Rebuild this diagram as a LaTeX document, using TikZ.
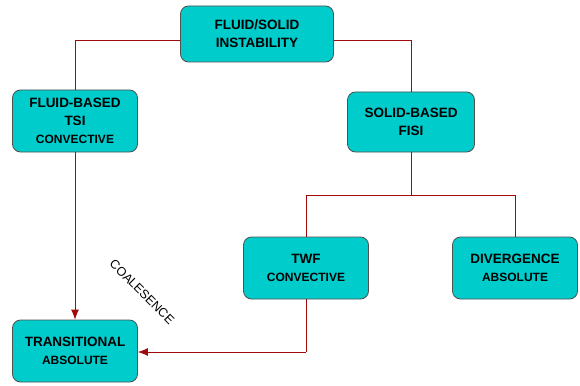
\documentclass[tikz,border=0pt]{standalone}
\usepackage{fontspec}
\setmainfont{Liberation Sans}
\usetikzlibrary{arrows.meta}
\definecolor{boxfill}{RGB}{0,204,204}
\definecolor{boxline}{RGB}{80,80,80}
\definecolor{linkred}{RGB}{160,10,10}
\begin{document}
\begin{tikzpicture}[x=1pt, y=1pt, >={Latex[length=10pt,width=8pt]},
    box/.style={draw=boxline, fill=boxfill, rounded corners=8pt, line width=0.8pt,
        minimum width=125pt, minimum height=62pt, inner sep=2pt, align=center,
        font=\bfseries\fontsize{13.5}{18}\selectfont},
    link/.style={draw=linkred, line width=0.8pt}]
    \useasboundingbox (0,0) rectangle (580,-385);

    % -- Boites --
    \node[box, minimum width=153pt, minimum height=56pt] (fsi) at (257,-34) {FLUID/SOLID\\INSTABILITY};
    \node[box] (fluid) at (75,-121) {FLUID-BASED\\TSI\\{\fontsize{12}{16}\selectfont CONVECTIVE}};
    \node[box, minimum width=127pt, minimum height=60pt] (solid) at (411,-122) {SOLID-BASED\\FISI};
    \node[box] (twf) at (306,-268) {TWF\\{\fontsize{12}{18}\selectfont CONVECTIVE}};
    \node[box] (div) at (515,-268) {DIVERGENCE\\{\fontsize{12}{18}\selectfont ABSOLUTE}};
    \node[box] (trans) at (75,-351) {TRANSITIONAL\\{\fontsize{12}{18}\selectfont ABSOLUTE}};

    % Points de jonction
    \coordinate (fork) at (411,-195);
    \coordinate (bend) at (306,-352);

    % -- Liens --
    \draw[link] (fsi.west |- 0,-40) -| (fluid.north);
    \draw[link] (fsi.east |- 0,-40) -| (solid.north);
    \draw[link] (solid.south) -- (fork);
    \draw[link] (fork) -| (twf.north);
    \draw[link] (fork) -| (div.north);
    \draw[link, ->] (fluid.south) -- (trans.north);
    \draw[link] (twf.south) -- (bend);
    \draw[link, ->] (bend) -- (trans.east |- bend);

    % Etiquette
    \node[rotate=-45, font=\fontsize{12.5}{15}\selectfont] (coal) at (142,-292) {COALESENCE};
\end{tikzpicture}
\end{document}
